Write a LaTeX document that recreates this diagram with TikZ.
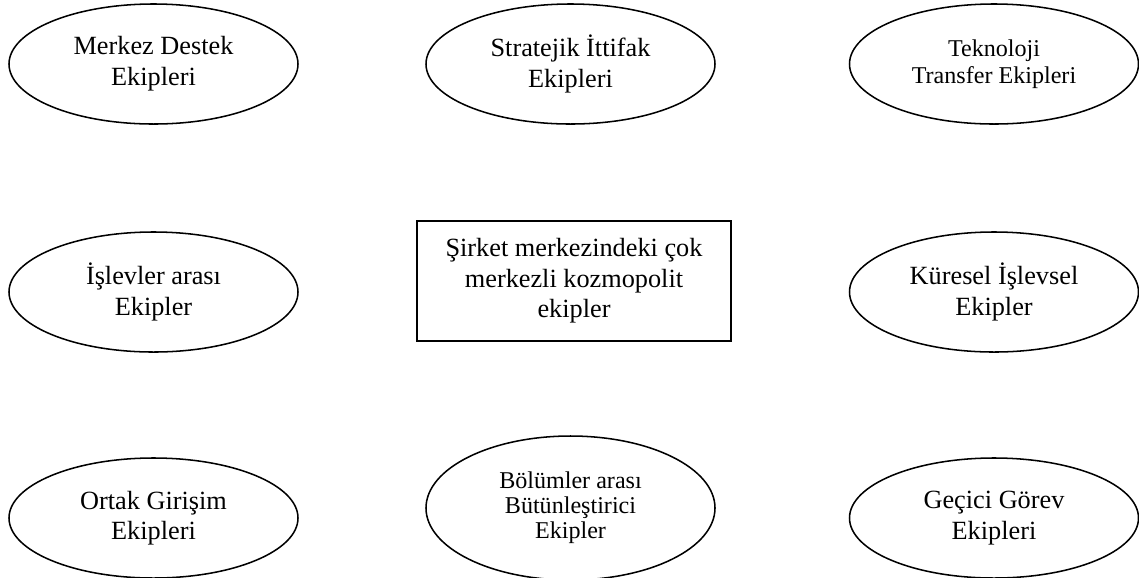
\documentclass[tikz,border=0pt]{standalone}
\usepackage{fontspec}
\setmainfont{Liberation Serif}
\usetikzlibrary{shapes.geometric}
\begin{document}
\begin{tikzpicture}[x=0.4566pt,y=-0.4566pt,
  team/.style={ellipse,draw,line width=0.7pt,inner sep=0pt,
    minimum width=131.96pt,minimum height=54.8pt,align=center,
    font=\fontsize{12}{14}\selectfont},
  smallteam/.style={team,font=\fontsize{11}{12.6}\selectfont},
  tinyteam/.style={team,font=\fontsize{11}{11.5}\selectfont},
  hub/.style={rectangle,draw,line width=0.7pt,inner sep=0pt,
    minimum width=143.4pt,minimum height=54.8pt,align=center,
    font=\fontsize{12}{14}\selectfont}]
  \useasboundingbox (0,0) rectangle (1139,577);
  % top row
  \node[team] (merkez) at (153.5,64) {Merkez Destek\\Ekipleri};
  \node[team] (strateji) at (570.5,64) {Stratejik İttifak\\Ekipleri};
  \node[smallteam] (tekno) at (994,64) {Teknoloji\\Transfer Ekipleri};
  % middle row
  \node[team] (islev) at (153.5,292) {İşlevler arası\\Ekipler};
  \node[hub] (sirket) at (574,281) {Şirket merkezindeki çok\\merkezli kozmopolit\\ekipler};
  \node[team] (kuresel) at (994,292) {Küresel İşlevsel\\Ekipler};
  % bottom row
  \node[team] (ortak) at (153.5,518) {Ortak Girişim\\Ekipleri};
  \node[tinyteam,minimum height=65.75pt] (bolum) at (570.5,508) {Bölümler arası\\Bütünleştirici\\Ekipler};
  \node[team] (gecici) at (994,518) {Geçici Görev\\Ekipleri};
\end{tikzpicture}
\end{document}
